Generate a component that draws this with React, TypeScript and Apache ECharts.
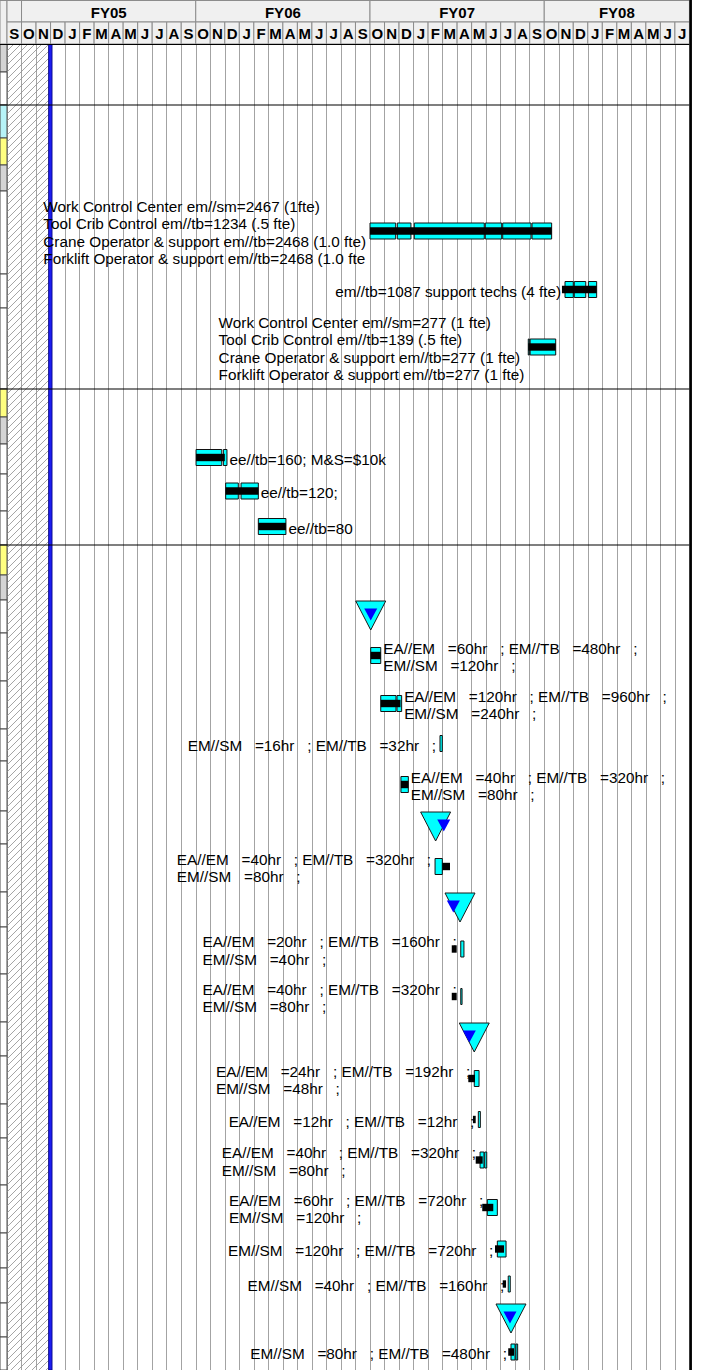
import React, { useEffect, useRef } from "react";
import * as echarts from "echarts";

// ---------------- data ----------------
// Timeline in months counted from 1 Sep 2004 (0) to end of Jul 2008 (47)
const monthLetters = ["S", "O", "N", "D", "J", "F", "M", "A", "M", "J", "J", "A"];
const monthCount = 47;
const fiscalYears = ["", "FY05", "FY06", "FY07", "FY08"];
const fiscalYearStart = [0, 1, 13, 25, 37];
const fiscalYearEnd = [1, 13, 25, 37, 47];
const dataDate = 3.0;

// outline level of each row (colour of the left strip)
const rowLevels = [
  "L1", "ACT", "L2", "L3", "L4", "ACT", "ACT", "ACT",
  "L3", "L4", "ACT", "ACT", "ACT",
  "L3", "L4", "ACT", "ACT", "ACT", "ACT", "ACT", "ACT", "ACT", "ACT", "ACT", "ACT",
  "ACT", "ACT", "ACT", "ACT", "ACT", "ACT", "ACT", "ACT", "ACT",
];
const groupStartRows = [2, 8, 13];

// activities: row, bar segments [start, end], resource band [start, end], label lines
const activityRows = [5, 6, 7, 10, 11, 12, 16, 17, 18, 19, 21, 23, 24, 26, 27, 28, 29, 30, 31, 33];
const activitySegments = [
  [[25.0, 26.77], [26.88, 27.82], [28.05, 32.87], [32.94, 34.07], [34.14, 36.09], [36.16, 37.51]],
  [[38.43, 39.0], [39.07, 39.86], [40.04, 40.61]],
  [[35.9, 35.97], [36.03, 37.79]],
  [[13.02, 14.79], [14.9, 15.15]],
  [[15.06, 15.93], [16.12, 17.31]],
  [[17.31, 19.21]],
  [[25.05, 25.74]],
  [[25.74, 26.79], [26.86, 27.18]],
  [[29.82, 29.98]],
  [[27.13, 27.64]],
  [[29.48, 29.98]],
  [[31.25, 31.47]],
  [[31.25, 31.34]],
  [[32.18, 32.51]],
  [[32.46, 32.6]],
  [[32.58, 32.85], [32.9, 33.04]],
  [[33.08, 33.77]],
  [[33.77, 34.37]],
  [[34.52, 34.66]],
  [[34.71, 34.99], [35.05, 35.17]],
];
const activityBands = [
  [25.0, 37.51],
  [38.22, 40.61],
  [35.9, 37.79],
  [13.02, 15.0],
  [15.06, 17.31],
  [17.31, 19.21],
  [25.05, 25.74],
  [25.74, 27.1],
  null,
  [27.13, 27.64],
  [29.98, 30.51],
  [30.63, 30.97],
  [30.63, 30.97],
  [31.77, 32.23],
  [32.09, 32.28],
  [32.28, 32.76],
  [32.73, 33.49],
  [33.61, 34.23],
  [34.14, 34.37],
  [34.52, 34.92],
];
const activityLabels = [
  [
    "Work Control Center em//sm=2467 (1fte)",
    "Tool Crib Control em//tb=1234 (.5 fte)",
    "Crane Operator & support em//tb=2468 (1.0 fte)",
    "Forklift Operator & support em//tb=2468 (1.0 fte",
  ],
  ["em//tb=1087 support techs (4 fte)"],
  [
    "Work Control Center em//sm=277 (1 fte)",
    "Tool Crib Control em//tb=139 (.5 fte)",
    "Crane Operator & support em//tb=277 (1 fte)",
    "Forklift Operator & support em//tb=277 (1 fte)",
  ],
  ["ee//tb=160; M&S=$10k"],
  ["ee//tb=120;"],
  ["ee//tb=80"],
  ["EA//EM   =60hr   ; EM//TB   =480hr   ;", "EM//SM   =120hr   ;"],
  ["EA//EM   =120hr   ; EM//TB   =960hr   ;", "EM//SM   =240hr   ;"],
  ["EM//SM   =16hr   ; EM//TB   =32hr   ;"],
  ["EA//EM   =40hr   ; EM//TB   =320hr   ;", "EM//SM   =80hr   ;"],
  ["EA//EM   =40hr   ; EM//TB   =320hr   ;", "EM//SM   =80hr   ;"],
  ["EA//EM   =20hr   ; EM//TB   =160hr   ;", "EM//SM   =40hr   ;"],
  ["EA//EM   =40hr   ; EM//TB   =320hr   ;", "EM//SM   =80hr   ;"],
  ["EA//EM   =24hr   ; EM//TB   =192hr   ;", "EM//SM   =48hr   ;"],
  ["EA//EM   =12hr   ; EM//TB   =12hr   ;"],
  ["EA//EM   =40hr   ; EM//TB   =320hr   ;", "EM//SM   =80hr   ;"],
  ["EA//EM   =60hr   ; EM//TB   =720hr   ;", "EM//SM   =120hr   ;"],
  ["EM//SM   =120hr   ; EM//TB   =720hr   ;"],
  ["EM//SM   =40hr   ; EM//TB   =160hr   ;"],
  ["EM//SM   =80hr   ; EM//TB   =480hr   ;"],
];
const activityLabelSide = [
  "left", "left", "left", "right", "right", "right",
  "right", "right", "left", "right", "left", "left", "left",
  "left", "left", "left", "left", "left", "left", "left",
];

// milestones: row, current date, baseline date
const milestoneRows = [15, 20, 22, 25, 32];
const milestoneDates = [25.05, 29.52, 31.2, 32.18, 34.71];
const milestoneBaselines = [25.05, 30.08, 30.74, 31.84, 34.64];

// ---------------- layout / style ----------------
const STRIP_W = 7;
const MONTH_W = 14.52;
const HEADER_H = 44;
const ROW_HEIGHTS = [
  28, 33, 33, 27, 26, 83, 34, 81, 28, 27, 30, 37, 34, 30, 25, 33, 48, 48, 32, 50,
  33, 48, 35, 47, 48, 34, 48, 34, 47, 48, 35, 35, 34, 33,
];
const ROW_TOPS: number[] = [];
{
  let acc = 0;
  for (const h of ROW_HEIGHTS) {
    ROW_TOPS.push(acc);
    acc += h;
  }
}
const BODY_H = ROW_HEIGHTS.reduce((a, b) => a + b, 0);

const FONT_FAMILY = '"Liberation Sans", Arial, Helvetica, sans-serif';
const LABEL_SIZE = 15.3;
const LABEL_LINE_H = 17.3;
const HEADER_BG = "#f0f0f0";
const HEADER_LINE = "#8c8c8c";
const GRID_LINE = "#a3a3a3";
const CYAN = "#00ffff";
const LEVEL_FILL: Record<string, string> = {
  L1: "#d4d4d4",
  L2: "#b6f3f7",
  L3: "#ffff80",
  L4: "#d4d4d4",
  ACT: "#ffffff",
};

let measureCtx: CanvasRenderingContext2D | null = null;
function textWidth(s: string): number {
  if (!measureCtx) {
    const c = document.createElement("canvas");
    measureCtx = c.getContext("2d");
  }
  if (!measureCtx) return s.length * 7.5;
  measureCtx.font = `${LABEL_SIZE}px ${FONT_FAMILY}`;
  return measureCtx.measureText(s).width;
}

function rowCenter(r: number) {
  return ROW_TOPS[r] + ROW_HEIGHTS[r] / 2;
}

function buildOption(): any {
  const gridW = monthCount * MONTH_W;
  const labelStyle = {
    fill: "#000",
    fontSize: LABEL_SIZE,
    fontFamily: FONT_FAMILY,
    lineHeight: LABEL_LINE_H,
    verticalAlign: "middle",
  };

  const headerSeries = [
    {
      type: "custom",
      xAxisIndex: 0,
      yAxisIndex: 0,
      clip: false,
      z: 5,
      data: [[0, 0]],
      encode: { x: 0, y: 1 },
      renderItem: (_p: any, api: any) => {
        const a = api.coord([0, 0]);
        const b = api.coord([0, 2]);
        return {
          type: "rect",
          shape: { x: a[0] - STRIP_W, y: a[1], width: STRIP_W, height: b[1] - a[1] },
          style: { fill: HEADER_BG, stroke: HEADER_LINE, lineWidth: 1 },
        };
      },
    },
    {
      type: "custom",
      xAxisIndex: 0,
      yAxisIndex: 0,
      clip: false,
      z: 5,
      data: fiscalYears.map((_, i) => [fiscalYearStart[i], fiscalYearEnd[i], 0]),
      encode: { x: [0, 1], y: 2 },
      renderItem: (params: any, api: any) => {
        const i = params.dataIndex;
        const a = api.coord([api.value(0), 0]);
        const b = api.coord([api.value(1), 1]);
        return {
          type: "group",
          children: [
            {
              type: "rect",
              shape: { x: a[0], y: a[1], width: b[0] - a[0], height: b[1] - a[1] },
              style: { fill: HEADER_BG, stroke: HEADER_LINE, lineWidth: 1 },
            },
            {
              type: "text",
              x: (a[0] + b[0]) / 2,
              y: (a[1] + b[1]) / 2 + 1.5,
              style: {
                text: fiscalYears[i],
                fill: "#000",
                fontSize: 15,
                fontWeight: "bold",
                fontFamily: FONT_FAMILY,
                align: "center",
                verticalAlign: "middle",
              },
            },
          ],
        };
      },
    },
    {
      type: "custom",
      xAxisIndex: 0,
      yAxisIndex: 0,
      clip: false,
      z: 5,
      data: Array.from({ length: monthCount }, (_, i) => [i, i + 1, 1]),
      encode: { x: [0, 1], y: 2 },
      renderItem: (params: any, api: any) => {
        const i = params.dataIndex;
        const a = api.coord([api.value(0), 1]);
        const b = api.coord([api.value(1), 2]);
        return {
          type: "group",
          children: [
            {
              type: "rect",
              shape: { x: a[0], y: a[1], width: b[0] - a[0], height: b[1] - a[1] },
              style: { fill: HEADER_BG, stroke: HEADER_LINE, lineWidth: 1 },
            },
            {
              type: "text",
              x: (a[0] + b[0]) / 2,
              y: (a[1] + b[1]) / 2 + 0.5,
              style: {
                text: monthLetters[i % 12],
                fill: "#000",
                fontSize: 15,
                fontWeight: "bold",
                fontFamily: FONT_FAMILY,
                align: "center",
                verticalAlign: "middle",
              },
            },
          ],
        };
      },
    },
  ];

  // body background decorations: left strip, hatch, data date
  const frameSeries = {
    type: "custom",
    xAxisIndex: 1,
    yAxisIndex: 1,
    clip: false,
    z: 3,
    data: [[0, 0]],
    encode: { x: 0, y: 1 },
    renderItem: (_p: any, api: any) => {
      const children: any[] = [];
      const x0 = api.coord([0, 0])[0];
      const top = api.coord([0, 0])[1];
      const bottom = api.coord([0, BODY_H])[1];
      // left strip
      rowLevels.forEach((lvl, r) => {
        const y0 = api.coord([0, ROW_TOPS[r]])[1];
        const y1 = api.coord([0, ROW_TOPS[r] + ROW_HEIGHTS[r]])[1];
        children.push({
          type: "rect",
          shape: { x: x0 - STRIP_W, y: y0, width: STRIP_W, height: y1 - y0 },
          style: { fill: LEVEL_FILL[lvl], stroke: "#4a4a4a", lineWidth: 1 },
        });
      });
      // hatch (past period before data date)
      const xd = api.coord([dataDate, 0])[0];
      const xb = xd - 2;
      for (let c = x0 + top; c < xb + bottom; c += 7) {
        const xs = Math.max(x0, c - bottom);
        const xe = Math.min(xb, c - top);
        if (xe > xs) {
          children.push({
            type: "line",
            shape: { x1: xs, y1: c - xs, x2: xe, y2: c - xe },
            style: { stroke: "#8e8e8e", lineWidth: 0.8 },
          });
        }
      }
      // data date line
      children.push({
        type: "rect",
        shape: { x: xd - 2, y: top, width: 3.5, height: bottom - top },
        style: { fill: "#1c1cf0", stroke: "#00007a", lineWidth: 0.8 },
      });
      return { type: "group", children };
    },
  };

  const barSeries = {
    type: "custom",
    xAxisIndex: 1,
    yAxisIndex: 1,
    clip: false,
    z: 6,
    data: activityRows.map((r, i) => [activitySegments[i][0][0], rowCenter(r)]),
    encode: { x: 0, y: 1 },
    renderItem: (params: any, api: any) => {
      const i = params.dataIndex;
      const r = activityRows[i];
      const segs = activitySegments[i];
      const yc = api.coord([0, rowCenter(r)])[1] - 1.5;
      const children: any[] = [];
      segs.forEach((s) => {
        const a = api.coord([s[0], 0])[0];
        const b = api.coord([s[1], 0])[0];
        children.push({
          type: "rect",
          shape: { x: a, y: yc - 8, width: Math.max(b - a, 1), height: 16 },
          style: { fill: CYAN, stroke: "#111", lineWidth: 1 },
        });
      });
      const band = activityBands[i];
      if (band) {
        const a = api.coord([band[0], 0])[0];
        const b = api.coord([band[1], 0])[0];
        children.push({
          type: "rect",
          shape: { x: a, y: yc - 3.7, width: b - a, height: 7.4 },
          style: { fill: "#000" },
        });
      }
      const lines = activityLabels[i];
      const textY = api.coord([0, rowCenter(r)])[1];
      let tx: number;
      if (activityLabelSide[i] === "right") {
        tx = api.coord([segs[segs.length - 1][1], 0])[0] + 2.5;
      } else {
        const anchor = api.coord([segs[0][0], 0])[0] - 4;
        const w = Math.max(...lines.map(textWidth));
        tx = anchor - w;
      }
      children.push({
        type: "text",
        x: tx,
        y: textY,
        style: { ...labelStyle, text: lines.join("\n"), align: "left" },
      });
      return { type: "group", children };
    },
  };

  const milestoneSeries = {
    type: "custom",
    xAxisIndex: 1,
    yAxisIndex: 1,
    clip: false,
    z: 6,
    data: milestoneRows.map((r, i) => [milestoneDates[i], rowCenter(r)]),
    encode: { x: 0, y: 1 },
    renderItem: (params: any, api: any) => {
      const i = params.dataIndex;
      const r = milestoneRows[i];
      const top = api.coord([0, ROW_TOPS[r]])[1] + 1;
      const cx = api.coord([milestoneDates[i], 0])[0];
      const bx = api.coord([milestoneBaselines[i], 0])[0];
      return {
        type: "group",
        children: [
          {
            type: "polygon",
            shape: { points: [[cx - 15, top], [cx + 15, top], [cx, top + 29]] },
            style: { fill: CYAN, stroke: "#1a1a1a", lineWidth: 1 },
          },
          {
            type: "polygon",
            shape: { points: [[bx - 6.5, top + 7.5], [bx + 6.5, top + 7.5], [bx, top + 19.5]] },
            style: { fill: "#0000ff" },
          },
        ],
      };
    },
  };

  // overlay lines: header bottom, group separators, right border, top border
  const overlaySeries = {
    type: "custom",
    xAxisIndex: 1,
    yAxisIndex: 1,
    clip: false,
    z: 8,
    data: [[0, 0]],
    encode: { x: 0, y: 1 },
    renderItem: (_p: any, api: any) => {
      const x0 = api.coord([0, 0])[0] - STRIP_W;
      const x1 = api.coord([monthCount, 0])[0];
      const top = api.coord([0, 0])[1];
      const bottom = api.coord([0, BODY_H])[1];
      const children: any[] = [
        {
          type: "line",
          shape: { x1: x0, y1: top + 0.5, x2: x1, y2: top + 0.5 },
          style: { stroke: "#000", lineWidth: 1.2 },
        },
        {
          type: "line",
          shape: { x1: x0, y1: 0.5, x2: x1, y2: 0.5 },
          style: { stroke: HEADER_LINE, lineWidth: 1 },
        },
        {
          type: "line",
          shape: { x1: x1 + 1.2, y1: 0, x2: x1 + 1.2, y2: bottom },
          style: { stroke: "#000", lineWidth: 2.6 },
        },
      ];
      groupStartRows.forEach((r) => {
        const y = api.coord([0, ROW_TOPS[r]])[1];
        children.push({
          type: "line",
          shape: { x1: x0, y1: y, x2: x1, y2: y },
          style: { stroke: "#000", lineWidth: 1.2 },
        });
      });
      return { type: "group", children };
    },
  };

  return {
    animation: false,
    backgroundColor: "#ffffff",
    grid: [
      { left: STRIP_W, top: 0, width: gridW, height: HEADER_H },
      { left: STRIP_W, top: HEADER_H, width: gridW, height: BODY_H },
    ],
    xAxis: [
      { gridIndex: 0, type: "value", min: 0, max: monthCount, show: false },
      {
        gridIndex: 1,
        type: "value",
        min: 0,
        max: monthCount,
        interval: 1,
        axisLine: { show: false },
        axisTick: { show: false },
        axisLabel: { show: false },
        splitLine: { show: true, lineStyle: { color: GRID_LINE, width: 1 } },
      },
    ],
    yAxis: [
      { gridIndex: 0, type: "value", min: 0, max: 2, inverse: true, show: false },
      {
        gridIndex: 1,
        type: "value",
        min: 0,
        max: BODY_H,
        inverse: true,
        axisLine: { show: false },
        axisTick: { show: false },
        axisLabel: { show: false },
        splitLine: { show: false },
      },
    ],
    series: [...headerSeries, frameSeries, barSeries, milestoneSeries, overlaySeries],
  };
}

export default function App() {
  const ref = useRef<HTMLDivElement>(null);
  useEffect(() => {
    document.body.style.margin = "0";
    const el = ref.current;
    if (!el) return;
    const chart = echarts.init(el, null, { renderer: "svg" });
    chart.setOption(buildOption());
    return () => {
      chart.dispose();
    };
  }, []);
  return <div ref={ref} style={{ width: 704, height: 1370, background: "#fff" }} />;
}
